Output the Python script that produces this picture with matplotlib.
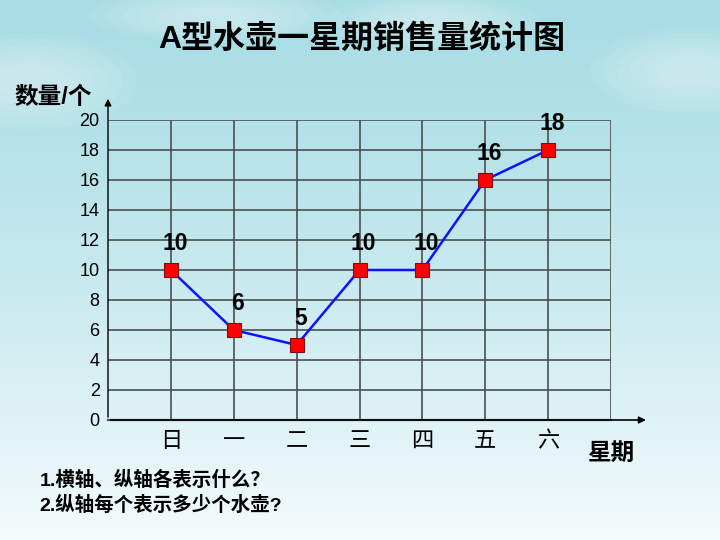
import numpy as np
import matplotlib
matplotlib.use("Agg")
import matplotlib.pyplot as plt
from matplotlib.patches import Ellipse

plt.rcParams['font.family'] = ['Liberation Sans', 'Noto Sans CJK SC', 'DejaVu Sans']

days = ['日', '一', '二', '三', '四', '五', '六']
sales = [10, 6, 5, 10, 10, 16, 18]
y_ticks = [0, 2, 4, 6, 8, 10, 12, 14, 16, 18, 20]

fig = plt.figure(figsize=(7.2, 5.4), dpi=100)

# sky background
bg = fig.add_axes([0, 0, 1, 1], zorder=-10)
grad = np.linspace(0, 1, 256).reshape(-1, 1)
top = np.array([168, 221, 229]) / 255
bottom = np.array([244, 251, 252]) / 255
img = top + (bottom - top) * grad[..., None] ** 1.3
bg.imshow(np.repeat(img, 2, axis=1), aspect='auto', extent=[0, 1, 0, 1], origin='upper')
# soft clouds: stacked faint ellipses
for (cx, cy, w, h) in [(0.04, 0.85, 0.3, 0.18), (0.3, 0.97, 0.35, 0.1),
                       (0.6, 0.96, 0.3, 0.1), (0.96, 0.87, 0.28, 0.16)]:
    for k in range(6):
        f = 1 - k * 0.13
        bg.add_patch(Ellipse((cx, cy), w * f, h * f, color='white', alpha=0.07, lw=0))
bg.set_xlim(0, 1)
bg.set_ylim(0, 1)
bg.axis('off')

ax = fig.add_axes([108 / 720, 1 - 420 / 540, 503 / 720, 300 / 540])
ax.set_facecolor('none')
x = np.arange(1, len(days) + 1)
ax.set_xlim(0, 8)
ax.set_ylim(0, 20)

grid_kw = dict(color='#4a5050', lw=1.2, zorder=1)
for yv in y_ticks[1:]:
    ax.axhline(yv, **grid_kw)
for xv in range(1, 9):
    ax.axvline(xv, **grid_kw)
for s in ax.spines.values():
    s.set_visible(False)

# axes with arrows
ax.annotate('', xy=(1.075, 0), xytext=(0, 0), xycoords='axes fraction',
            arrowprops=dict(arrowstyle='-|>', color='black', lw=1.2, mutation_scale=10),
            annotation_clip=False)
ax.plot([0, 1], [0, 0], transform=ax.transAxes, color='#4a5050', lw=1.6, clip_on=False, zorder=2)
ax.annotate('', xy=(0, 1.08), xytext=(0, 0), xycoords='axes fraction',
            arrowprops=dict(arrowstyle='-|>', color='black', lw=1.0, mutation_scale=10),
            annotation_clip=False)

ax.plot(x, sales, color='#0a14ff', lw=1.8, marker='s', markersize=10,
        markerfacecolor='#ff0000', markeredgecolor='#7a1010', markeredgewidth=0.8, zorder=3)
for xi, v in zip(x, sales):
    ax.annotate(str(v), (xi, v), xytext=(3, 11), textcoords='offset points',
                ha='center', va='bottom', fontsize=16.5, fontweight='bold')

ax.set_yticks(y_ticks)
ax.set_yticklabels([str(v) for v in y_ticks], fontsize=13)
ax.set_xticks(x)
ax.set_xticklabels(days, fontsize=16)
ax.tick_params(length=0, pad=6)
ax.tick_params(axis='x', pad=8)

fig.text(0.503, 0.926, 'A型水壶一星期销售量统计图', ha='center', va='center',
         fontsize=23, fontweight='bold')
fig.text(0.02, 0.82, '数量/个', ha='left', va='center', fontsize=17, fontweight='bold')
fig.text(0.815, 0.161, '星期', ha='left', va='center', fontsize=17, fontweight='bold')
fig.text(0.055, 0.111, '1.横轴、纵轴各表示什么？', ha='left', va='center', fontsize=14, fontweight='bold')
fig.text(0.055, 0.064, '2.纵轴每个表示多少个水壶?', ha='left', va='center', fontsize=14, fontweight='bold')

fig.savefig('out.png', dpi=100)
